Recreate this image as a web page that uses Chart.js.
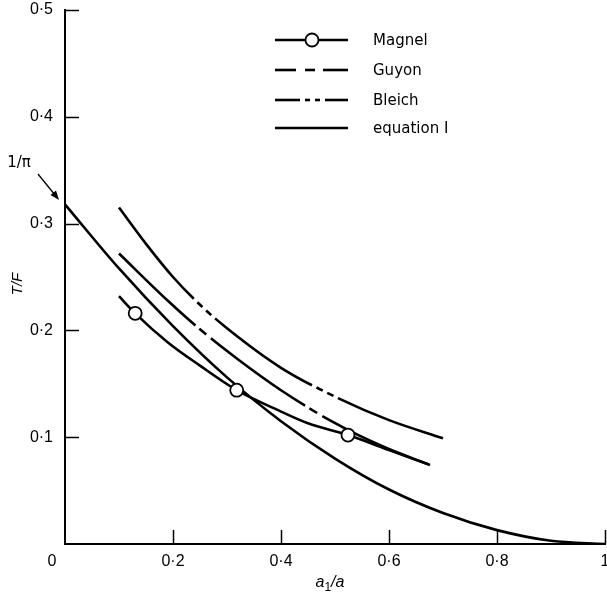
<!DOCTYPE html>
<html>
<head>
<meta charset="utf-8">
<script src="https://cdn.jsdelivr.net/npm/chart.js@4.4.0/dist/chart.umd.min.js"></script>
<style>
  html, body { margin: 0; padding: 0; background: #fff; }
  #grafico { display: block; }
</style>
</head>
<body>
<canvas id="grafico" width="607" height="598"></canvas>
<script>
// valores (x = a1/a, y = T/F)
const magnelX = [0.1, 0.13, 0.19, 0.25, 0.318, 0.40, 0.45, 0.524, 0.60, 0.676];
const magnelY = [0.232, 0.216, 0.189, 0.167, 0.144, 0.124, 0.113, 0.102, 0.088, 0.074];
const magnelCirculos = [1, 4, 7]; // indices com circulo

const guyonX = [0.1, 0.19, 0.25, 0.32, 0.40, 0.49, 0.59, 0.676];
const guyonY = [0.272, 0.228, 0.201, 0.173, 0.144, 0.116, 0.091, 0.074];

const bleichX = [0.1, 0.15, 0.2, 0.25, 0.3, 0.4, 0.5, 0.6, 0.7];
const bleichY = [0.315, 0.281, 0.250, 0.224, 0.202, 0.165, 0.138, 0.116, 0.099];

const equacaoX = [0, 0.1, 0.2, 0.3, 0.4, 0.5, 0.6, 0.7, 0.8, 0.9, 1.0];
const equacaoY = [0.318, 0.258, 0.204, 0.156, 0.115, 0.080, 0.051, 0.029, 0.013, 0.003, 0.0];

const ticksX = [0.2, 0.4, 0.6, 0.8, 1.0];
const ticksY = [0.1, 0.2, 0.3, 0.4, 0.5];

const legendas = ['Magnel', 'Guyon', 'Bleich', 'equation I'];

function pares(xs, ys) {
  return xs.map((x, i) => ({ x: x, y: ys[i] }));
}

function formatar(v) {
  return String(Math.round(v * 10) / 10).replace('.', '·');
}

const fonteTick = '16px "Liberation Sans", Arial, sans-serif';

// desenha tracinhos, legenda, titulos e a seta do 1/pi
const extras = {
  id: 'extras',
  afterDraw(chart) {
    const ctx = chart.ctx;
    const area = chart.chartArea;
    const sx = chart.scales.x;
    const sy = chart.scales.y;
    ctx.save();
    ctx.strokeStyle = '#000';
    ctx.fillStyle = '#000';

    // tracinhos para dentro
    ctx.lineWidth = 1.5;
    ticksY.forEach(v => {
      const py = Math.round(sy.getPixelForValue(v)) + 0.5;
      ctx.beginPath(); ctx.moveTo(area.left, py); ctx.lineTo(area.left + 14, py); ctx.stroke();
    });
    ticksX.forEach(v => {
      const px = Math.round(sx.getPixelForValue(v)) + 0.5;
      ctx.beginPath(); ctx.moveTo(px, area.bottom); ctx.lineTo(px, area.bottom - 14); ctx.stroke();
    });

    // "0" da origem e "1" cortado na borda
    ctx.font = fonteTick;
    ctx.textAlign = 'center';
    ctx.textBaseline = 'middle';
    const yLab = area.bottom + 18;
    ctx.fillText('0', 52, yLab);
    ctx.fillText('1', sx.getPixelForValue(1), yLab);

    // titulo eixo x: a1/a
    const fIt = 'italic 16px "Liberation Sans", Arial, sans-serif';
    const fSub = '12px "Liberation Sans", Arial, sans-serif';
    ctx.textAlign = 'left';
    ctx.font = fIt; const w1 = ctx.measureText('a').width;
    ctx.font = fSub; const w2 = ctx.measureText('1').width;
    ctx.font = fIt; const w3 = ctx.measureText('/a').width;
    let tx = 330 - (w1 + w2 + w3) / 2;
    ctx.font = fIt; ctx.fillText('a', tx, 583); tx += w1;
    ctx.font = fSub; ctx.fillText('1', tx, 588); tx += w2;
    ctx.font = fIt; ctx.fillText('/a', tx, 583);

    // titulo eixo y
    ctx.save();
    ctx.translate(18, 284);
    ctx.rotate(-Math.PI / 2);
    ctx.textAlign = 'center';
    ctx.font = 'italic 15px "Liberation Sans", Arial, sans-serif';
    ctx.fillText('T/F', 0, 0);
    ctx.restore();

    // 1/pi e seta
    ctx.font = '15px "DejaVu Sans", sans-serif';
    ctx.textAlign = 'center';
    ctx.fillText('1/\u03C0', 19, 163);
    ctx.lineWidth = 1.3;
    ctx.beginPath(); ctx.moveTo(38, 174); ctx.lineTo(55, 195); ctx.stroke();
    ctx.beginPath();
    ctx.moveTo(59, 200); ctx.lineTo(50.5, 195); ctx.lineTo(56, 190.5); ctx.closePath(); ctx.fill();

    // legenda
    const lx0 = 275, lx1 = 348, textoX = 373;
    const ly = [40, 70, 100, 128];
    const segmentos = [
      [[lx0, lx1]],
      [[lx0, 296], [305, 315], [323, lx1]],
      [[lx0, 300], [305, 310], [315, 320], [325, lx1]],
      [[lx0, lx1]]
    ];
    ctx.lineWidth = 2.6;
    segmentos.forEach((segs, i) => {
      segs.forEach(s => {
        ctx.beginPath(); ctx.moveTo(s[0], ly[i]); ctx.lineTo(s[1], ly[i]); ctx.stroke();
      });
    });
    ctx.beginPath();
    ctx.arc(312, ly[0], 6.5, 0, Math.PI * 2);
    ctx.fillStyle = '#fff'; ctx.fill();
    ctx.lineWidth = 1.8; ctx.stroke();
    ctx.fillStyle = '#000';
    ctx.font = '15px "DejaVu Sans", sans-serif';
    ctx.textAlign = 'left';
    legendas.forEach((t, i) => ctx.fillText(t, textoX, ly[i] + 1));

    ctx.restore();
  }
};

const estiloLinha = {
  borderColor: '#000',
  borderWidth: 2.6,
  pointRadius: 0,
  fill: false,
  cubicInterpolationMode: 'monotone'
};

const config = {
  type: 'line',
  data: {
    datasets: [
      Object.assign({}, estiloLinha, {
        label: legendas[0],
        data: pares(magnelX, magnelY),
        pointRadius: magnelX.map((x, i) => magnelCirculos.includes(i) ? 6.5 : 0),
        pointBackgroundColor: '#fff',
        pointBorderColor: '#000',
        pointBorderWidth: 1.8
      }),
      Object.assign({}, estiloLinha, {
        label: legendas[1],
        data: pares(guyonX, guyonY),
        borderDash: [116, 5, 9, 6],
        borderDashOffset: 11
      }),
      Object.assign({}, estiloLinha, {
        label: legendas[2],
        data: pares(bleichX, bleichY),
        borderDash: [118, 5, 7, 5, 7, 5]
      }),
      Object.assign({}, estiloLinha, {
        label: legendas[3],
        data: pares(equacaoX, equacaoY)
      })
    ]
  },
  options: {
    responsive: false,
    animation: false,
    devicePixelRatio: 1,
    layout: { autoPadding: false, padding: { top: 10, right: 2, left: 0, bottom: 0 } },
    plugins: { legend: { display: false }, tooltip: { enabled: false } },
    scales: {
      x: {
        type: 'linear',
        min: 0,
        max: 1,
        grid: { display: false, drawTicks: false },
        border: { display: true, color: '#000', width: 2 },
        ticks: {
          stepSize: 0.2,
          padding: 8,
          color: '#000',
          font: { family: '"Liberation Sans", Arial, sans-serif', size: 16 },
          maxRotation: 0,
          callback: v => (v === 0 || v === 1 ? '' : formatar(v))
        },
        afterFit: s => { s.height = 54; s.paddingLeft = 0; s.paddingRight = 0; }
      },
      y: {
        min: 0,
        max: 0.5,
        grid: { display: false, drawTicks: false },
        border: { display: true, color: '#000', width: 2 },
        ticks: {
          stepSize: 0.1,
          padding: 12,
          color: '#000',
          font: { family: '"Liberation Sans", Arial, sans-serif', size: 16 },
          callback: v => (v === 0 ? '' : formatar(v))
        },
        afterFit: s => { s.width = 65; s.paddingTop = 0; s.paddingBottom = 0; }
      }
    }
  },
  plugins: [extras]
};

const meuGrafico = new Chart(document.getElementById('grafico'), config);
</script>
</body>
</html>
